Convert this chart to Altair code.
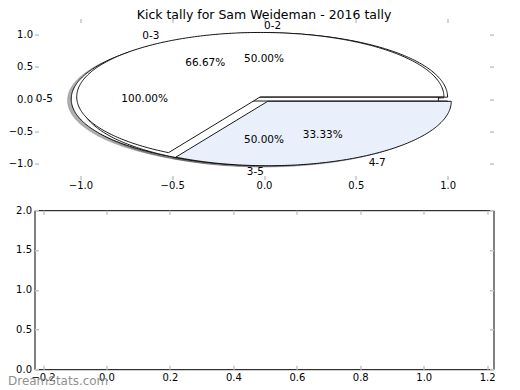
import math
import numpy as np
import pandas as pd
import altair as alt

# ---------------- data ----------------
title_text = "Kick tally for Sam Weideman - 2016 tally"
watermark_text = "DreamStats.com"

# three pies drawn on the same axes, in this order (later ones on top)
pie_a_labels = ["0-5"]
pie_a_values = [100.00]
pie_c_labels = ["0-2", "3-5"]
pie_c_values = [50.00, 50.00]
pie_b_labels = ["0-3", "4-7"]
pie_b_values = [66.67, 33.33]

x_ticks_top = [-1.0, -0.5, 0.0, 0.5, 1.0]
y_ticks_top = [-1.0, -0.5, 0.0, 0.5, 1.0]
x_ticks_bottom = [-0.2, 0.0, 0.2, 0.4, 0.6, 0.8, 1.0, 1.2]
y_ticks_bottom = [0.0, 0.5, 1.0, 1.5, 2.0]

# ---------------- styles ----------------
FONT = "DejaVu Sans"
WHITE = "#ffffff"
BLUE = "#e9effb"
TICK = "#c4c4c4"
pies = [
    dict(labels=pie_a_labels, values=pie_a_values, explode=0.05, colors=[WHITE]),
    dict(labels=pie_c_labels, values=pie_c_values, explode=0.03, colors=[WHITE, WHITE]),
    dict(labels=pie_b_labels, values=pie_b_values, explode=0.04, colors=[WHITE, BLUE]),
]

# ---------------- build wedge outlines from the values ----------------
wedge_rows, shadow_rows, label_rows, pct_rows, wedge_fill = [], [], [], [], []
wid = 0
for pie in pies:
    total = sum(pie["values"])
    start = 0.0
    for lab, val, col in zip(pie["labels"], pie["values"], pie["colors"]):
        frac = val / total
        t1, t2 = start * 360.0, (start + frac) * 360.0
        start += frac
        mid = math.radians((t1 + t2) / 2.0)
        cx, cy = pie["explode"] * math.cos(mid), pie["explode"] * math.sin(mid)
        n = max(8, int(abs(t2 - t1)))
        angs = np.radians(np.linspace(t1, t2, n + 1))
        full = frac > 0.9999
        pts = [] if full else [(cx, cy)]
        pts += [(cx + math.cos(a), cy + math.sin(a)) for a in angs]
        if not full:
            pts.append((cx, cy))
        for i, (px, py) in enumerate(pts):
            wedge_rows.append({"w": wid, "i": i, "x": px, "y": py})
            shadow_rows.append({"w": wid, "i": i, "x": px - 0.02, "y": py - 0.02})
        xt = cx + 1.1 * math.cos(mid)
        yt = cy + 1.1 * math.sin(mid)
        label_rows.append({"t": lab, "x": xt, "y": yt, "side": "left" if xt > 0 else "right"})
        pct_rows.append({"t": f"{val:.2f}%", "x": cx + 0.6 * math.cos(mid), "y": cy + 0.6 * math.sin(mid)})
        wedge_fill.append(col)
        wid += 1

wedges = pd.DataFrame(wedge_rows)
shadows = pd.DataFrame(shadow_rows)
labels = pd.DataFrame(label_rows)
pcts = pd.DataFrame(pct_rows)

# ---------------- layout ----------------
LEFT = 26.5          # plot-area left edge, relative to the page margin
W, H_TOP, H_BOT = 459, 161, 159

xs_top = alt.Scale(domain=[-1.25, 1.25], nice=False, zero=False)
ys_top = alt.Scale(domain=[-1.25, 1.25], nice=False, zero=False)


def axis(orient, values, labels_on=True, pad=4):
    kw = dict(orient=orient, values=values, format=".1f", domain=False, grid=False,
              ticks=True, tickSize=4, offset=-4, tickColor=TICK, tickWidth=1.5,
              labels=labels_on, labelFont=FONT, labelFontSize=10, labelColor="black",
              labelPadding=pad, title=None)
    return alt.Axis(**kw)


shadow_layer = alt.Chart(shadows).mark_line(
    fill="#4d4d4d", stroke="#4d4d4d", fillOpacity=0.45, strokeOpacity=0.45, strokeWidth=0.6
).encode(
    x=alt.X("x:Q", scale=xs_top, axis=axis("top", x_ticks_top, False)),
    y=alt.Y("y:Q", scale=ys_top, axis=axis("right", y_ticks_top, False)),
    detail="w:N",
    order="i:Q",
)

wedge_layers = []
for k, col in enumerate(wedge_fill):
    wedge_layers.append(
        alt.Chart(wedges).transform_filter(alt.datum.w == k).mark_line(
            fill=col, stroke="black", strokeWidth=0.9
        ).encode(
            x=alt.X("x:Q", scale=xs_top, axis=None),
            y=alt.Y("y:Q", scale=ys_top, axis=None),
            order="i:Q",
        )
    )

pct_layer = alt.Chart(pcts).mark_text(
    font=FONT, fontSize=10.5, color="black", align="center", baseline="middle"
).encode(
    x=alt.X("x:Q", scale=xs_top, axis=axis("bottom", x_ticks_top, True, 1)),
    y=alt.Y("y:Q", scale=ys_top, axis=axis("left", y_ticks_top, True, 2)),
    text="t:N",
)

lab_layers = []
for side in ["left", "right"]:
    lab_layers.append(
        alt.Chart(labels).transform_filter(alt.datum.side == side).mark_text(
            font=FONT, fontSize=10.5, color="black", align=side, baseline="middle"
        ).encode(
            x=alt.X("x:Q", scale=xs_top, axis=None),
            y=alt.Y("y:Q", scale=ys_top, axis=None),
            text="t:N",
        )
    )

top = alt.layer(shadow_layer, *wedge_layers, pct_layer, *lab_layers).properties(
    width=W, height=H_TOP,
    title=alt.TitleParams(title_text, font=FONT, fontSize=12.5, fontWeight="normal",
                          color="black", anchor="middle", frame="group", offset=-3.5),
)

# ---------------- bottom panel (empty axes) ----------------
xs_bot = alt.Scale(domain=[-0.227, 1.22], nice=False, zero=False)
ys_bot = alt.Scale(domain=[0.0, 2.0], nice=False, zero=False)
limits = pd.DataFrame({"x": [x_ticks_bottom[0], x_ticks_bottom[-1]], "y": [y_ticks_bottom[0], y_ticks_bottom[-1]]})

bot_axes1 = alt.Chart(limits).mark_point(opacity=0).encode(
    x=alt.X("x:Q", scale=xs_bot, axis=axis("bottom", x_ticks_bottom, True, 3)),
    y=alt.Y("y:Q", scale=ys_bot, axis=axis("left", y_ticks_bottom, True, 3)),
)
bot_axes2 = alt.Chart(limits).mark_point(opacity=0).encode(
    x=alt.X("x:Q", scale=xs_bot, axis=axis("top", x_ticks_bottom, False)),
    y=alt.Y("y:Q", scale=ys_bot, axis=axis("right", y_ticks_bottom, False)),
)
wm = alt.Chart(pd.DataFrame({"t": [watermark_text]})).mark_text(
    font=FONT, fontSize=12, color="#909090", align="left", baseline="alphabetic"
).encode(x=alt.value(-LEFT), y=alt.value(175), text="t:N")

bottom = alt.layer(bot_axes1, bot_axes2, wm).properties(
    width=W, height=H_BOT,
    view=alt.ViewBackground(stroke="black", strokeWidth=1),
)

chart = alt.vconcat(top, bottom, spacing=30.6, bounds="flush").properties(
    autosize=alt.AutoSizeParams(type="none"),
    padding={"left": LEFT, "top": 10.6, "right": 10, "bottom": 369.0},
    background="white",
).configure_view(stroke=None)

chart.save("out.html", embed_options={"renderer": "svg", "actions": False})
